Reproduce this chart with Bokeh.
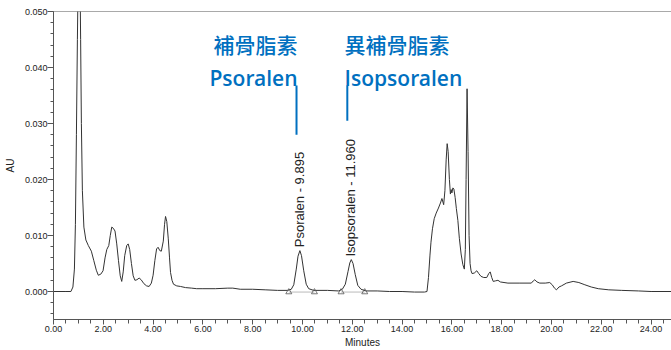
import math
from bokeh.plotting import figure
from bokeh.models import Range1d, Span, Label, FixedTicker, NumeralTickFormatter, ColumnDataSource
from bokeh.core.properties import value
from bokeh.embed import file_html
from bokeh.resources import INLINE

# ---- data ----
time_min = [0.00, 0.50, 0.70, 0.78, 0.84, 0.88, 0.92, 0.96, 1.00, 1.03, 1.06, 1.09, 1.12, 1.16,
            1.22, 1.30, 1.40, 1.52, 1.62, 1.72, 1.80, 1.90, 1.99, 2.07, 2.14, 2.22, 2.28, 2.34,
            2.40, 2.47, 2.54, 2.61, 2.68, 2.74, 2.80, 2.86, 2.94, 3.00, 3.06, 3.13, 3.20, 3.27,
            3.35, 3.44, 3.52, 3.63, 3.74, 3.84, 3.93, 4.00, 4.07, 4.14, 4.20, 4.27, 4.33, 4.41,
            4.46, 4.50, 4.55, 4.61, 4.66, 4.70, 4.76, 4.82, 4.95, 5.10, 5.30, 5.55, 5.75, 6.00,
            6.50, 7.00, 7.20, 7.50, 8.00, 8.50, 9.00, 9.40, 9.55, 9.65, 9.75, 9.82, 9.895, 9.96,
            10.05, 10.15, 10.25, 10.45, 11.00, 11.45, 11.60, 11.72, 11.83, 11.90, 11.96, 12.03,
            12.12, 12.22, 12.35, 12.55, 13.00, 13.50, 14.00, 14.50, 14.90, 15.00, 15.06, 15.12,
            15.16, 15.22, 15.29, 15.37, 15.46, 15.54, 15.60, 15.67, 15.72, 15.77, 15.81, 15.85,
            15.90, 15.94, 15.97, 16.00, 16.04, 16.08, 16.13, 16.18, 16.24, 16.30, 16.37, 16.44,
            16.50, 16.54, 16.57, 16.61, 16.65, 16.69, 16.73, 16.77, 16.81, 16.90, 17.00, 17.08,
            17.17, 17.28, 17.40, 17.48, 17.54, 17.60, 17.66, 17.75, 17.85, 17.95, 18.25, 18.70,
            19.19, 19.27, 19.33, 19.42, 19.53, 19.75, 19.93, 20.03, 20.12, 20.20, 20.30, 20.40,
            20.60, 20.87, 21.10, 21.34, 21.60, 21.88, 22.30, 22.82, 23.50, 24.00, 24.84]
absorbance = [0.0000, 0.0000, 0.0000, 0.0008, 0.0040, 0.0120, 0.0280, 0.0450, 0.0600, 0.0650, 0.0580, 0.0450, 0.0300, 0.0180,
              0.0115, 0.0092, 0.0082, 0.0072, 0.0055, 0.0038, 0.0029, 0.0031, 0.0037, 0.0060, 0.0075, 0.0082, 0.0100, 0.0115,
              0.0113, 0.0108, 0.0085, 0.0055, 0.0028, 0.0018, 0.0035, 0.0064, 0.0082, 0.0085, 0.0075, 0.0050, 0.0028, 0.0020,
              0.0021, 0.0024, 0.0021, 0.0014, 0.0010, 0.0009, 0.0015, 0.0029, 0.0055, 0.0076, 0.0079, 0.0073, 0.0072, 0.0090,
              0.0120, 0.0134, 0.0125, 0.0094, 0.0060, 0.0034, 0.0020, 0.0013, 0.0010, 0.0009, 0.0007, 0.0006, 0.0005, 0.0005,
              0.0005, 0.0006, 0.0006, 0.0004, 0.0004, 0.0003, 0.0002, 0.0002, 0.0004, 0.0012, 0.0040, 0.0063, 0.0073, 0.0064,
              0.0037, 0.0013, 0.0005, 0.0002, 0.0002, 0.0001, 0.0004, 0.0013, 0.0036, 0.0051, 0.0057, 0.0050,
              0.0030, 0.0011, 0.0004, 0.0001, 0.0001, 0.0000, 0.0000, -0.0001, -0.0001, 0.0000, 0.0025, 0.0065,
              0.0088, 0.0112, 0.0130, 0.0140, 0.0149, 0.0158, 0.0166, 0.0155, 0.0180, 0.0235, 0.0264, 0.0250,
              0.0200, 0.0174, 0.0182, 0.0176, 0.0185, 0.0183, 0.0168, 0.0148, 0.0127, 0.0095, 0.0067, 0.0048,
              0.0040, 0.0075, 0.0200, 0.0362, 0.0250, 0.0100, 0.0050, 0.0037, 0.0032, 0.0033, 0.0037, 0.0032,
              0.0027, 0.0025, 0.0025, 0.0032, 0.0035, 0.0025, 0.0018, 0.0019, 0.0020, 0.0017, 0.0015, 0.0015,
              0.0015, 0.0019, 0.0021, 0.0017, 0.0015, 0.0015, 0.0016, 0.0012, 0.0006, 0.0003, 0.0008, 0.0010,
              0.0015, 0.0018, 0.0016, 0.0012, 0.0008, 0.0005, 0.0003, 0.0002, 0.0001, 0.0000, 0.0000]

peak_names = ["Psoralen", "Isopsoralen"]
peak_rt = [9.895, 11.960]
peak_start = [9.45, 11.55]
peak_end = [10.48, 12.50]
peak_base = [-0.0001, -0.0001]
cn_names = ["補骨脂素", "異補骨脂素"]

x_ticks = [0, 2, 4, 6, 8, 10, 12, 14, 16, 18, 20, 22, 24]
y_ticks = [0.0, 0.01, 0.02, 0.03, 0.04, 0.05]

BLUE = "#0070C0"
FONT = "Liberation Sans"
LATIN_BLUE_FONT = "'Open Sans SemiBold', 'Open Sans'"
CJK_BLUE_FONT = "'Noto Sans CJK TC Medium', 'Noto Sans CJK TC'"

p = figure(width=671, height=350, output_backend="svg", toolbar_location=None,
           x_range=Range1d(0, 24.82), y_range=Range1d(-0.005, 0.050),
           min_border_left=53, min_border_right=0, min_border_top=11, min_border_bottom=31)
p.outline_line_color = None
p.grid.visible = False
p.background_fill_color = "white"

# axes
p.xaxis.ticker = FixedTicker(ticks=x_ticks, minor_ticks=[i * 0.5 for i in range(0, 50)])
p.yaxis.ticker = FixedTicker(ticks=y_ticks, minor_ticks=[i * 0.002 for i in range(-2, 26)])
p.xaxis.formatter = NumeralTickFormatter(format="0.00")
p.yaxis.formatter = NumeralTickFormatter(format="0.000")
p.xaxis.axis_label = "Minutes"
p.yaxis.axis_label = "AU"
for ax in (p.xaxis, p.yaxis):
    ax.axis_line_color = "#555555"
    ax.major_tick_line_color = "#555555"
    ax.minor_tick_line_color = "#555555"
    ax.major_tick_in = 0
    ax.minor_tick_in = 0
    ax.major_tick_out = 5
    ax.minor_tick_out = 4
    ax.major_label_text_font = FONT
    ax.major_label_text_font_size = "9px"
    ax.major_label_text_color = "#222222"
    ax.axis_label_text_font = FONT
    ax.axis_label_text_font_size = "10px"
    ax.axis_label_text_font_style = "normal"
    ax.axis_label_text_color = "#222222"
    ax.major_label_standoff = 1
    ax.axis_label_standoff = 2
p.yaxis.major_tick_out = 6
p.yaxis.minor_tick_out = 3
p.yaxis.major_label_standoff = 0
p.yaxis.axis_label_standoff = 6

# top border
p.add_layout(Span(location=0.05, dimension="width", line_color="#555555", line_width=1))

# chromatogram
p.line(time_min, absorbance, line_color="#333333", line_width=1)

# integration baselines and markers
for s, e, b in zip(peak_start, peak_end, peak_base):
    p.line([s, e], [b, b], line_color="#bbbbbb", line_width=1)
p.scatter(peak_start + peak_end, peak_base * 2, marker="triangle", size=6,
          fill_color=None, line_color="#555555", line_width=0.8)

# rotated peak labels
lab_x = [9.86, 11.94]
lab_y = [0.0079, 0.00625]
src = ColumnDataSource(dict(x=lab_x, y=lab_y,
                            t=[f"{n} - {rt:.3f}" for n, rt in zip(peak_names, peak_rt)]))
p.text(x="x", y="y", text="t", source=src, angle=math.pi / 2, text_align="left",
       text_baseline="middle", text_font=value(FONT), text_font_size="13px", text_color="#222222")

# blue annotations
p.line([9.76, 9.76], [0.0280, 0.0368], line_color=BLUE, line_width=2)
p.line([11.80, 11.80], [0.0305, 0.0368], line_color=BLUE, line_width=2)
p.add_layout(Label(x=9.80, y=0.0442, text=cn_names[0], text_align="right", text_baseline="middle",
                   text_font=CJK_BLUE_FONT, text_font_size="21px", text_color=BLUE))
p.add_layout(Label(x=9.80, y=0.0381, text=peak_names[0], text_align="right", text_baseline="alphabetic",
                   text_font=LATIN_BLUE_FONT, text_font_size="21px", text_color=BLUE))
p.add_layout(Label(x=11.69, y=0.0442, text=cn_names[1], text_align="left", text_baseline="middle",
                   text_font=CJK_BLUE_FONT, text_font_size="21px", text_color=BLUE))
p.add_layout(Label(x=11.69, y=0.0381, text=peak_names[1], text_align="left", text_baseline="alphabetic",
                   text_font=LATIN_BLUE_FONT, text_font_size="21px", text_color=BLUE))

open("out.html", "w").write(file_html(p, INLINE))
